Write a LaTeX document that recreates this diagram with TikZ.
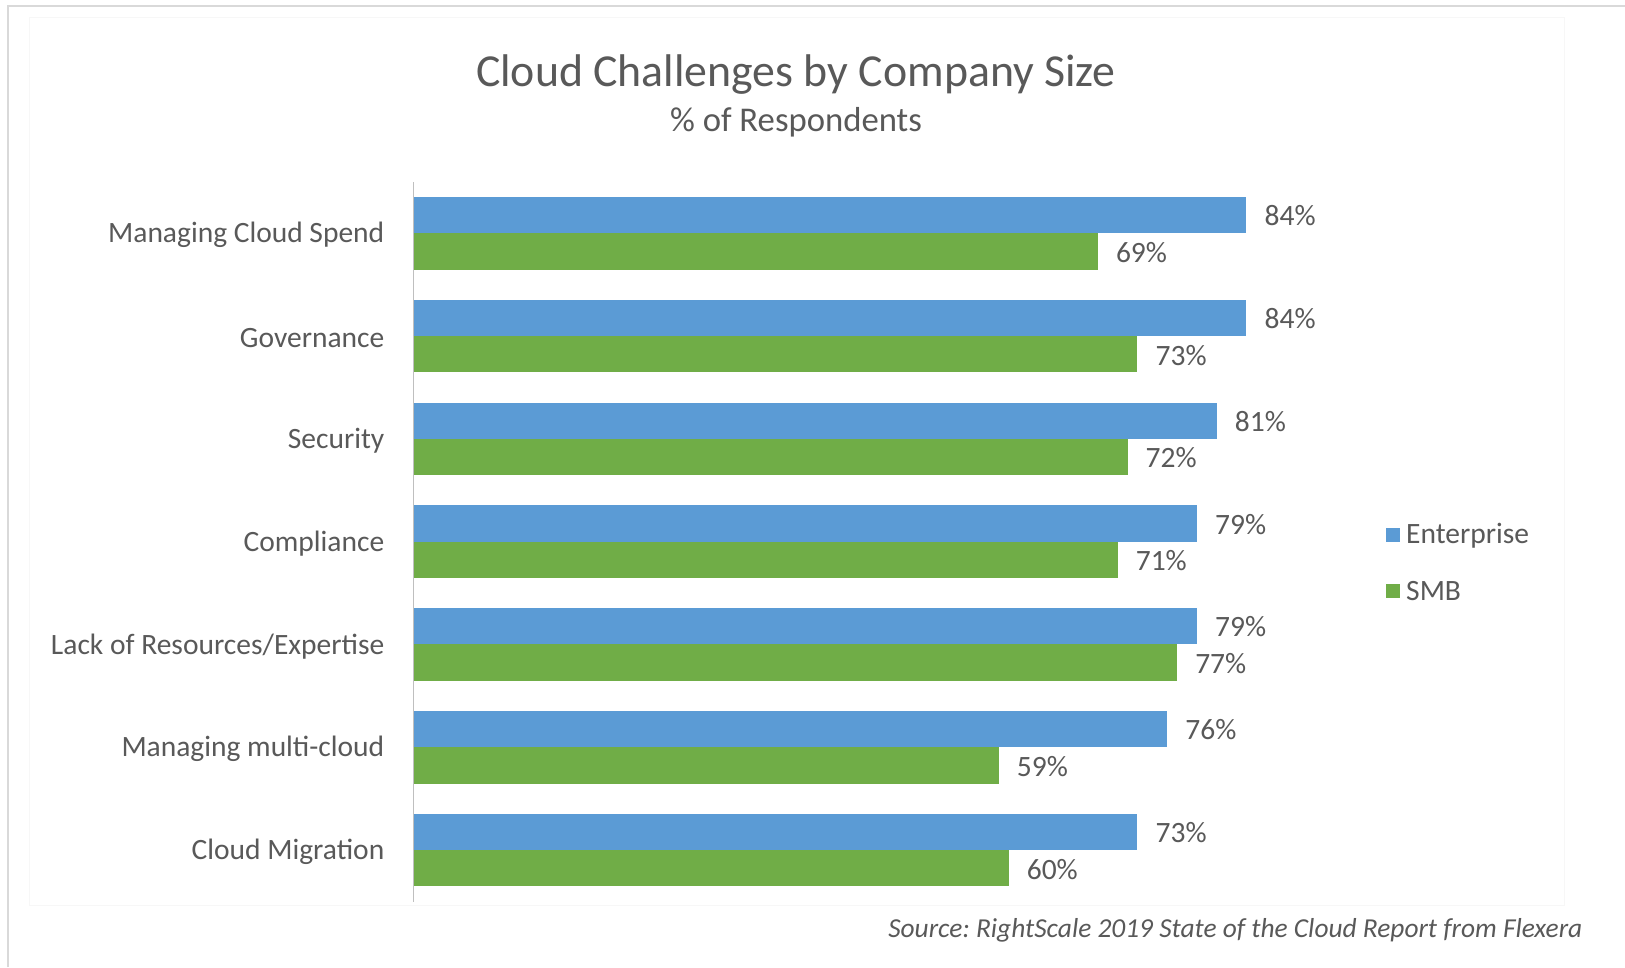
\documentclass[tikz,border=0pt]{standalone}
\usepackage{fontspec}
\setmainfont{Carlito}
\definecolor{entblue}{HTML}{5B9BD5}
\definecolor{smbgreen}{HTML}{70AD47}
\definecolor{txtgray}{HTML}{595959}
\definecolor{framegray}{HTML}{D9D9D9}
\definecolor{axisgray}{HTML}{BFBFBF}
\definecolor{faintgray}{HTML}{F7F7F7}
\frenchspacing
\begin{document}
\begin{tikzpicture}[x=1pt,y=-1pt,
  cat/.style={anchor=east,inner sep=0pt,text=txtgray,font=\fontsize{29.5}{32}\selectfont},
  val/.style={anchor=west,inner sep=0pt,text=txtgray,font=\fontsize{29.5}{32}\selectfont},
  entbar/.style={fill=entblue,draw=none},
  smbbar/.style={fill=smbgreen,draw=none},
  legtext/.style={anchor=west,inner sep=0pt,text=txtgray,font=\fontsize{29.5}{32}\selectfont}]
\useasboundingbox (0,0) rectangle (1625,967);
\fill[white] (0,0) rectangle (1625,967);
% outer frame (top and left)
\draw[framegray,line width=2pt] (8,967) -- (8,6) -- (1625,6);
% inner faint chart area
\draw[faintgray,line width=0.8pt] (29,17) rectangle (1564,905);
% title
\node[text=txtgray,font=\fontsize{45.8}{50}\selectfont] (title) at (796,75) {Cloud Challenges by Company Size};
\node[text=txtgray,font=\fontsize{34.7}{38}\selectfont] (subtitle) at (796,122.5) {\% of Respondents};
% bars
\foreach \i/\name/\e/\s in {0/Managing Cloud Spend/84/69, 1/Governance/84/73, 2/Security/81/72, 3/Compliance/79/71, 4/Lack of Resources\slash Expertise/79/77, 5/Managing multi-cloud/76/59, 6/Cloud Migration/73/60}{
  \pgfmathsetmacro{\yt}{196.9+102.8*\i}
  \pgfmathsetmacro{\ym}{\yt+36.3}
  \pgfmathsetmacro{\yb}{\yt+72.6}
  \pgfmathsetmacro{\xe}{414+9.91*\e}
  \pgfmathsetmacro{\xs}{414+9.91*\s}
  \fill[entbar] (414,\yt) rectangle (\xe,\ym);
  \fill[smbbar] (414,\ym) rectangle (\xs,\yb);
  \node[val] (ev\i) at ({\xe+18},{\yt+18.9}) {\e\%};
  \node[val] (sv\i) at ({\xs+18},{\ym+19.2}) {\s\%};
  \node[cat] (cat\i) at (384.5,{\ym+2}) {\name};
}
% axis
\coordinate (axtop) at (413.5,182);
\coordinate (axbot) at (413.5,902);
\draw[axisgray,line width=1.6pt] (axtop) -- (axbot);
% legend
\fill[entblue] (1385.5,527.5) rectangle (1400,542);
\node[legtext] (legE) at (1406,535.5) {Enterprise};
\fill[smbgreen] (1385.5,583.5) rectangle (1400,598);
\node[legtext] (legS) at (1406,591.5) {SMB};
% source
\node[anchor=east,inner sep=0pt,text=txtgray,font=\fontsize{27.4}{30}\selectfont\itshape] (src) at (1582.5,930.5) {Source: RightScale 2019 State of the Cloud Report from Flexera};
\end{tikzpicture}
\end{document}
